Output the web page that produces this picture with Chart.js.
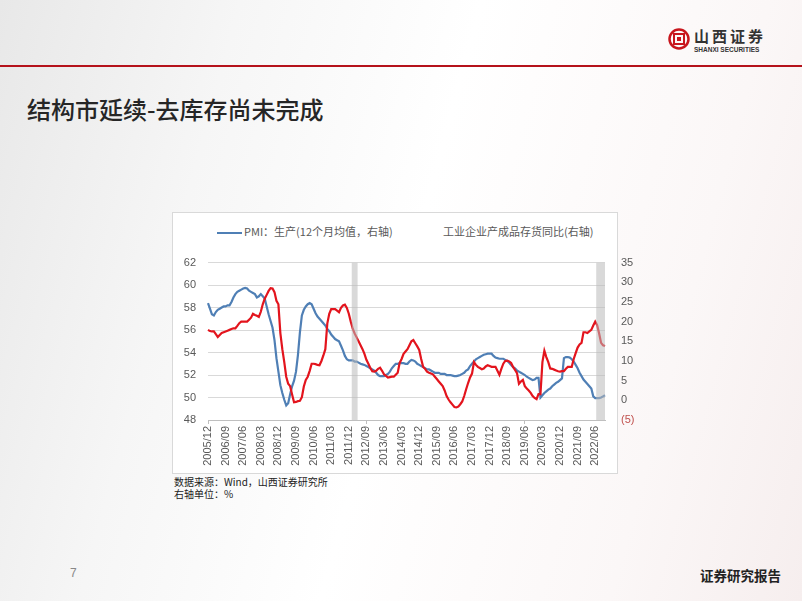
<!DOCTYPE html>
<html>
<head>
<meta charset="utf-8">
<script src="https://cdn.jsdelivr.net/npm/chart.js@4.4.0/dist/chart.umd.min.js"></script>
<style>
    html, body { margin: 0; padding: 0; }
    body { width: 802px; height: 601px; overflow: hidden; font-family: "Noto Sans CJK SC", "Liberation Sans", sans-serif; }
    #slide {
        position: relative; width: 802px; height: 601px; overflow: hidden;
        background: linear-gradient(105deg, #e8e8e8 0%, #f6f6f6 25%, #ffffff 50%, #fbf7f7 80%, #f6eeee 100%);
    }
    #redline { position: absolute; left: 0; top: 65px; width: 802px; height: 2px; background: #b5121b; }
    #logo-mark { position: absolute; left: 668px; top: 28px; }
    #logo-cn { position: absolute; left: 694px; top: 27px; font-size: 15px; line-height: 18px; font-weight: bold; color: #333; letter-spacing: 3px; }
    #logo-en { position: absolute; left: 694px; top: 46px; font-family: "Liberation Sans", sans-serif; font-size: 6.5px; font-weight: bold; color: #333; }
    #title { position: absolute; left: 27px; top: 91px; font-size: 24px; font-weight: 500; color: #262626; }
    #chartbox { position: absolute; left: 172px; top: 212px; width: 444px; height: 260px; background: #fff; border: 1px solid #d9d9d9; }
    #legend { position: absolute; left: 172px; top: 222px; width: 446px; height: 18px; font-size: 11px; color: #595959; }
    .lg { position: absolute; top: 0; line-height: 18px; white-space: nowrap; }
    .lg i { display: inline-block; width: 25px; height: 2px; vertical-align: middle; margin-right: 2px; }
    #chart { position: absolute; left: 160px; top: 244px; }
    #note { position: absolute; left: 174px; top: 476px; font-size: 10px; line-height: 12px; color: #222; }
    #pageno { position: absolute; left: 70px; top: 566px; font-family: "Liberation Sans", sans-serif; font-size: 12px; color: #888; }
    #report { position: absolute; left: 700px; top: 565px; font-size: 13.5px; font-weight: bold; color: #222; }
</style>
</head>
<body>
<div id="slide">
    <div id="redline"></div>
    <svg id="logo-mark" width="22" height="22" viewBox="0 0 22 22">
        <circle cx="11" cy="11" r="9.5" fill="none" stroke="#c8161d" stroke-width="2.5"/>
        <rect x="6" y="6" width="10" height="10" fill="none" stroke="#c8161d" stroke-width="2"/>
        <rect x="9" y="9" width="4" height="4" fill="#c8161d"/>
    </svg>
    <div id="logo-cn">山西证券</div>
    <div id="logo-en">SHANXI SECURITIES</div>
    <div id="title">结构市延续-去库存尚未完成</div>

    <div id="chartbox"></div>
    <div id="legend">
        <span class="lg" style="left:45px"><i style="background:#4f7fb5"></i>PMI：生产(12个月均值，右轴)</span>
        <span class="lg" style="left:271px">工业企业产成品存货同比(右轴)</span>
    </div>
    <canvas id="chart" width="480" height="230"></canvas>

    <div id="note">数据来源：Wind，山西证券研究所<br>右轴单位：%</div>
    <div id="pageno">7</div>
    <div id="report">证券研究报告</div>
</div>

<script>
/* ================= DATA ================= */
const startYear = 2005;
const startMonth = 12;
const monthCount = 204;   // 2005/12 .. 2022/11

const tickLabels = [
    "2005/12", "2006/09", "2007/06", "2008/03", "2008/12", "2009/09", "2010/06", "2011/03",
    "2011/12", "2012/09", "2013/06", "2014/03", "2014/12", "2015/09", "2016/06", "2017/03",
    "2017/12", "2018/09", "2019/06", "2020/03", "2020/12", "2021/09", "2022/06"
];

// PMI：生产 12个月均值 (left axis)
const pmiProduction = [
    58.4, 57.9, 57.4, 57.3, 57.6, 57.8, 57.9, 58.0, 58.1, 58.1,
    58.2, 58.2, 58.5, 58.9, 59.2, 59.4, 59.5, 59.6, 59.7, 59.75,
    59.7, 59.5, 59.4, 59.3, 59.2, 58.9, 59.0, 59.2, 59.0, 58.8,
    58.1, 57.4, 56.8, 56.2, 55.1, 53.5, 52.3, 51.1, 50.4, 49.8,
    49.3, 49.5, 50.3, 51.0, 51.5, 52.3, 53.8, 55.8, 57.3, 57.8,
    58.1, 58.3, 58.4, 58.3, 57.9, 57.5, 57.2, 57.0, 56.8, 56.6,
    56.4, 56.1, 55.9, 55.6, 55.4, 55.2, 55.1, 55.0, 54.6, 54.2,
    53.7, 53.4, 53.3, 53.3, 53.3, 53.2, 53.2, 53.1, 53.0, 52.95,
    52.9, 52.8, 52.7, 52.6, 52.5, 52.4, 52.2, 52.0, 51.9, 51.9,
    51.9, 52.0, 52.1, 52.3, 52.6, 52.8, 53.0, 53.0, 53.05, 53.05,
    53.05, 53.0, 53.0, 53.2, 53.35, 53.3, 53.2, 53.0, 52.9, 52.8,
    52.7, 52.6, 52.5, 52.5, 52.4, 52.3, 52.2, 52.2, 52.2, 52.1,
    52.1, 52.1, 52.0, 52.0, 52.0, 51.95, 51.9, 51.9, 51.95, 52.0,
    52.1, 52.2, 52.4, 52.5, 52.8, 53.0, 53.2, 53.4, 53.5, 53.6,
    53.7, 53.8, 53.85, 53.9, 53.9, 53.9, 53.7, 53.55, 53.5, 53.45,
    53.45, 53.45, 53.35, 53.25, 53.1, 52.9, 52.7, 52.6, 52.4, 52.3,
    52.2, 52.1, 52.0, 51.85, 51.75, 51.65, 51.55, 51.6, 51.75, 51.75,
    50.0, 50.2, 50.4, 50.55, 50.7, 50.8, 51.0, 51.15, 51.3, 51.4,
    51.55, 51.7, 53.5, 53.6, 53.6, 53.55, 53.4, 53.2, 52.9, 52.6,
    52.2, 51.9, 51.6, 51.4, 51.2, 51.0, 50.8, 50.1, 49.95, 49.95,
    49.95, 50.0, 50.1, 50.2
];

// 工业企业产成品存货同比 % (right axis)
const inventoryYoY = [
    17.9, 17.6, 17.5, 17.5, 16.8, 16.1, 16.6, 17.1, 17.3, 17.5,
    17.7, 17.9, 18.1, 18.3, 18.3, 18.9, 19.6, 20.0, 20.0, 20.0,
    20.0, 20.5, 21.0, 22.0, 21.7, 21.5, 21.2, 22.5, 24.4, 25.8,
    26.8, 27.8, 28.5, 28.4, 27.5, 25.3, 24.4, 17.1, 13.0, 9.7,
    6.0, 4.2, 3.6, 1.5, -0.5, -0.4, -0.2, -0.1, 0.8, 3.5,
    5.2, 6.0, 7.5, 9.3, 9.3, 9.2, 9.0, 8.9, 10.0, 11.4,
    13.0, 19.5, 22.0, 23.2, 23.2, 23.2, 22.8, 22.4, 23.5, 24.1,
    24.3, 23.5, 22.0, 20.0, 18.2, 17.0, 16.0, 15.0, 14.0, 13.0,
    11.8, 10.3, 9.3, 8.2, 7.4, 7.3, 7.5, 8.0, 8.3, 7.5,
    6.6, 6.2, 5.8, 5.9, 6.0, 6.0, 6.5, 7.0, 9.5, 10.5,
    11.8, 12.4, 13.0, 14.0, 15.0, 15.3, 14.5, 13.7, 12.8, 10.5,
    8.5, 8.0, 7.3, 7.0, 6.8, 6.6, 6.0, 5.4, 4.8, 4.2,
    3.6, 2.5, 1.1, 0.2, -0.5, -1.1, -1.7, -1.8, -1.6, -1.0,
    -0.3, 1.1, 2.8, 4.4, 5.8, 6.8, 9.7, 9.0, 8.5, 8.2,
    7.9, 8.1, 8.6, 8.9, 8.7, 8.5, 8.5, 8.5, 7.5, 6.5,
    8.0, 9.3, 10.0, 10.1, 9.9, 9.5, 8.5, 7.7, 6.9, 4.2,
    4.8, 5.2, 3.6, 3.0, 2.5, 1.9, 1.1, 0.6, 0.3, 1.6,
    1.6, 9.7, 12.6, 11.0, 9.7, 8.1, 8.0, 7.8, 7.6, 7.4,
    7.3, 7.4, 7.4, 8.0, 8.5, 8.5, 8.5, 10.5, 12.0, 13.4,
    14.2, 14.6, 17.3, 17.3, 17.1, 17.5, 17.9, 19.0, 20.0, 19.1,
    17.0, 14.6, 14.0, 13.8
];

// grey shaded periods (first month, last month)
const shadeBands = [
    ["2012/02", "2012/04"],
    ["2022/07", "2022/11"]
];

/* ================= MONTH LABELS ================= */
const months = [];
for (let i = 0; i < monthCount; i++) {
    const t = startYear * 12 + (startMonth - 1) + i;
    const y = Math.floor(t / 12);
    const m = t % 12 + 1;
    months.push(y + "/" + (m < 10 ? "0" + m : m));
}

/* ================= SHADE PLUGIN ================= */
const shadePlugin = {
    id: "shade",
    afterDatasetsDraw(chart) {
        const { ctx, chartArea, scales } = chart;
        const x = scales.x;
        const step = x.getPixelForValue(1) - x.getPixelForValue(0);
        ctx.save();
        ctx.beginPath();
        ctx.rect(chartArea.left, chartArea.top, chartArea.right - chartArea.left, chartArea.bottom - chartArea.top);
        ctx.clip();
        ctx.fillStyle = "rgba(185,185,185,0.55)";
        shadeBands.forEach(b => {
            const x0 = x.getPixelForValue(months.indexOf(b[0])) - step / 2;
            const x1 = x.getPixelForValue(months.indexOf(b[1])) + step / 2;
            ctx.fillRect(x0, chartArea.top, x1 - x0, chartArea.bottom - chartArea.top);
        });
        ctx.restore();
    }
};

/* ================= CHART ================= */
const font = { family: "'Liberation Sans', sans-serif", size: 11 };

new Chart(document.getElementById("chart"), {
    type: "line",
    data: {
        labels: months,
        datasets: [
            {
                label: "PMI：生产(12个月均值，右轴)",
                data: pmiProduction,
                yAxisID: "y",
                borderColor: "#4f7fb5",
                borderWidth: 2.2,
                pointRadius: 0,
                tension: 0,
                order: 1
            },
            {
                label: "工业企业产成品存货同比(右轴)",
                data: inventoryYoY,
                yAxisID: "y1",
                borderColor: "#e3141d",
                borderWidth: 2.2,
                pointRadius: 0,
                tension: 0,
                order: 0
            }
        ]
    },
    options: {
        responsive: false,
        animation: false,
        layout: { padding: { top: 12, left: 0, right: 0, bottom: 0 } },
        plugins: { legend: { display: false }, tooltip: { enabled: false } },
        scales: {
            x: {
                offset: false,
                grid: {
                    drawOnChartArea: false,
                    tickLength: 4,
                    color: c => tickLabels.includes(months[c.index]) ? "#bfbfbf" : "rgba(0,0,0,0)"
                },
                border: { color: "#bfbfbf" },
                ticks: {
                    autoSkip: false,
                    minRotation: 90,
                    maxRotation: 90,
                    padding: 2,
                    color: "#595959",
                    font: font,
                    callback: (v, i) => tickLabels.includes(months[i]) ? months[i] : null
                },
                afterFit: s => { s.height = 54; }
            },
            y: {
                position: "left",
                min: 48,
                max: 62,
                ticks: { stepSize: 2, padding: 12, color: "#595959", font: font },
                grid: { color: "#d9d9d9", drawTicks: false },
                border: { display: false },
                afterFit: s => { s.width = 48; }
            },
            y1: {
                position: "right",
                min: -5,
                max: 35,
                ticks: {
                    stepSize: 5,
                    padding: 8,
                    font: font,
                    color: c => c.tick.value < 0 ? "#c0504d" : "#595959",
                    callback: v => v < 0 ? "(" + (-v) + ")" : v
                },
                grid: { display: false },
                border: { display: false },
                afterFit: s => { s.width = 35; }
            }
        }
    },
    plugins: [shadePlugin]
});
</script>
</body>
</html>
